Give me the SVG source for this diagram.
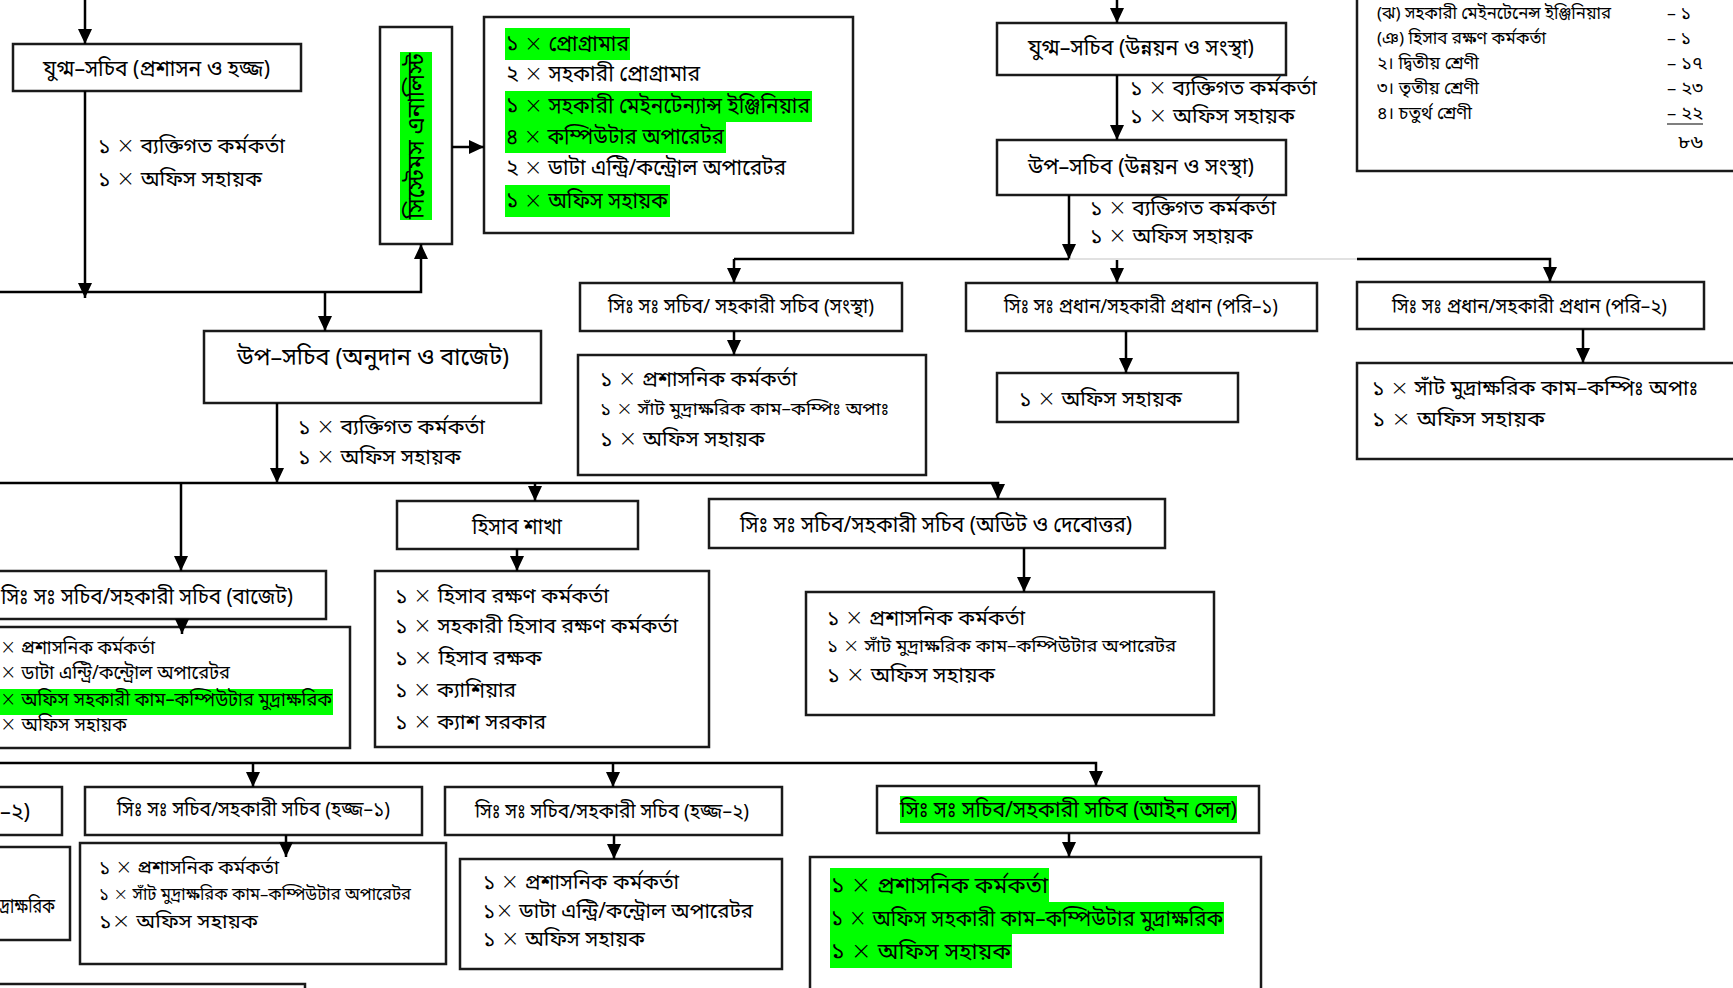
<svg xmlns="http://www.w3.org/2000/svg" width="1733" height="988" viewBox="0 0 1733 988">
<style>
.box{fill:#fff;stroke:#1a1a1a;stroke-width:2.5}
.hl{fill:#00ff00}
.t{font-family:"Noto Sans Bengali","Noto Serif Bengali","Lohit Bengali","FreeSerif","Noto Sans",sans-serif;fill:#000}
.x{font-family:"DejaVu Sans","Liberation Sans",sans-serif;font-weight:200;font-size:1.08em}
.f24{font-size:24px}.f23{font-size:23px}.f22{font-size:22px}.f21{font-size:21px}.f20{font-size:20px}.f19{font-size:19px}.f18{font-size:18px}.f17{font-size:17px}
.c{stroke:#000;stroke-width:2.5;fill:none}
.ca{stroke:#000;stroke-width:2.5;fill:none;marker-end:url(#ah)}
.cg{stroke:#c4c4c4;stroke-width:1.2;fill:none}
</style>
<defs>
<marker id="ah" markerUnits="userSpaceOnUse" markerWidth="16" markerHeight="16" refX="15" refY="7" orient="auto"><path d="M0,0 L15,7 L0,14 z" fill="#000"/></marker>
</defs>
<rect width="1733" height="988" fill="#fff"/>

<g id="node-jugmo-proshashon">
<rect class="box" x="13" y="44" width="288" height="47"/>
<text class="t f22" x="43" y="76" textLength="227" lengthAdjust="spacingAndGlyphs">যুগ্ম–সচিব (প্রশাসন ও হজ্জ)</text>
</g>
<g id="staff-jugmo-proshashon">
<text class="t f21" x="98" y="153" textLength="187" lengthAdjust="spacingAndGlyphs">১ <tspan class="x">×</tspan> ব্যক্তিগত কর্মকর্তা</text>
<text class="t f21" x="98" y="186" textLength="164" lengthAdjust="spacingAndGlyphs">১ <tspan class="x">×</tspan> অফিস সহায়ক</text>
</g>

<g id="node-systems-analyst">
<rect class="box" x="380" y="27" width="72" height="217"/>
<rect class="hl" x="400" y="52" width="32" height="168"/>
<text class="t f24" transform="translate(416,136) rotate(-90)" x="0" y="8" text-anchor="middle" textLength="166" lengthAdjust="spacingAndGlyphs">সিস্টেমস এনালিস্ট</text>
</g>

<g id="node-programmer">
<rect class="box" x="484" y="17" width="369" height="216"/>
<rect class="hl" x="505" y="28" width="125" height="32"/>
<rect class="hl" x="505" y="91" width="307" height="31"/>
<rect class="hl" x="505" y="122" width="221" height="31"/>
<rect class="hl" x="505" y="185" width="165" height="32"/>
<text class="t f22" x="506" y="51" textLength="123" lengthAdjust="spacingAndGlyphs">১ <tspan class="x">×</tspan> প্রোগ্রামার</text>
<text class="t f22" x="506" y="81" textLength="194" lengthAdjust="spacingAndGlyphs">২ <tspan class="x">×</tspan> সহকারী প্রোগ্রামার</text>
<text class="t f22" x="506" y="113" textLength="304" lengthAdjust="spacingAndGlyphs">১ <tspan class="x">×</tspan> সহকারী মেইনটেন্যান্স ইঞ্জিনিয়ার</text>
<text class="t f22" x="506" y="144" textLength="218" lengthAdjust="spacingAndGlyphs">৪ <tspan class="x">×</tspan> কম্পিউটার অপারেটর</text>
<text class="t f22" x="506" y="175" textLength="280" lengthAdjust="spacingAndGlyphs">২ <tspan class="x">×</tspan> ডাটা এন্ট্রি/কন্ট্রোল অপারেটর</text>
<text class="t f22" x="506" y="208" textLength="162" lengthAdjust="spacingAndGlyphs">১ <tspan class="x">×</tspan> অফিস সহায়ক</text>
</g>

<g id="node-jugmo-unnayan">
<rect class="box" x="997" y="23" width="289" height="52"/>
<text class="t f22" x="1028" y="55" textLength="226" lengthAdjust="spacingAndGlyphs">যুগ্ম–সচিব (উন্নয়ন ও সংস্থা)</text>
</g>
<g id="staff-jugmo-unnayan">
<text class="t f21" x="1130" y="95" textLength="187" lengthAdjust="spacingAndGlyphs">১ <tspan class="x">×</tspan> ব্যক্তিগত কর্মকর্তা</text>
<text class="t f21" x="1130" y="123" textLength="165" lengthAdjust="spacingAndGlyphs">১ <tspan class="x">×</tspan> অফিস সহায়ক</text>
</g>

<g id="node-up-unnayan">
<rect class="box" x="997" y="140" width="289" height="55"/>
<text class="t f22" x="1028" y="174" textLength="226" lengthAdjust="spacingAndGlyphs">উপ–সচিব (উন্নয়ন ও সংস্থা)</text>
</g>
<g id="staff-up-unnayan">
<text class="t f21" x="1090" y="215" textLength="186" lengthAdjust="spacingAndGlyphs">১ <tspan class="x">×</tspan> ব্যক্তিগত কর্মকর্তা</text>
<text class="t f21" x="1090" y="243" textLength="163" lengthAdjust="spacingAndGlyphs">১ <tspan class="x">×</tspan> অফিস সহায়ক</text>
</g>

<g id="node-sangstha">
<rect class="box" x="580" y="283" width="322" height="48"/>
<text class="t f20" x="608" y="313" textLength="266" lengthAdjust="spacingAndGlyphs">সিঃ সঃ সচিব/ সহকারী সচিব (সংস্থা)</text>
</g>
<g id="node-sangstha-staff">
<rect class="box" x="578" y="355" width="348" height="120"/>
<text class="t f21" x="600" y="386" textLength="197" lengthAdjust="spacingAndGlyphs">১ <tspan class="x">×</tspan> প্রশাসনিক কর্মকর্তা</text>
<text class="t f18" x="600" y="415" textLength="289" lengthAdjust="spacingAndGlyphs">১ <tspan class="x">×</tspan> সাঁট মুদ্রাক্ষরিক কাম–কম্পিঃ অপাঃ</text>
<text class="t f21" x="600" y="446" textLength="165" lengthAdjust="spacingAndGlyphs">১ <tspan class="x">×</tspan> অফিস সহায়ক</text>
</g>

<g id="node-pori1">
<rect class="box" x="966" y="283" width="351" height="48"/>
<text class="t f20" x="1004" y="313" textLength="274" lengthAdjust="spacingAndGlyphs">সিঃ সঃ প্রধান/সহকারী প্রধান (পরি–১)</text>
</g>
<g id="node-pori1-staff">
<rect class="box" x="997" y="373" width="241" height="49"/>
<text class="t f21" x="1019" y="406" textLength="163" lengthAdjust="spacingAndGlyphs">১ <tspan class="x">×</tspan> অফিস সহায়ক</text>
</g>

<g id="node-pori2">
<rect class="box" x="1357" y="282" width="347" height="47"/>
<text class="t f20" x="1392" y="313" textLength="275" lengthAdjust="spacingAndGlyphs">সিঃ সঃ প্রধান/সহকারী প্রধান (পরি–২)</text>
</g>
<g id="node-pori2-staff">
<rect class="box" x="1357" y="363" width="400" height="96"/>
<text class="t f20" x="1372" y="395" textLength="326" lengthAdjust="spacingAndGlyphs">১ <tspan class="x">×</tspan> সাঁট মুদ্রাক্ষরিক কাম–কম্পিঃ অপাঃ</text>
<text class="t f20" x="1372" y="426" textLength="173" lengthAdjust="spacingAndGlyphs">১ <tspan class="x">×</tspan> অফিস সহায়ক</text>
</g>

<g id="node-summary">
<rect class="box" x="1357" y="-5" width="400" height="176"/>
<text class="t f17" x="1377" y="19" textLength="234" lengthAdjust="spacingAndGlyphs">(ঝ) সহকারী মেইনটেনেন্স ইঞ্জিনিয়ার</text>
<text class="t f17" x="1377" y="44" textLength="169" lengthAdjust="spacingAndGlyphs">(ঞ) হিসাব রক্ষণ কর্মকর্তা</text>
<text class="t f17" x="1377" y="69" textLength="102" lengthAdjust="spacingAndGlyphs">২। দ্বিতীয় শ্রেণী</text>
<text class="t f17" x="1377" y="94" textLength="102" lengthAdjust="spacingAndGlyphs">৩। তৃতীয় শ্রেণী</text>
<text class="t f17" x="1377" y="119" textLength="95" lengthAdjust="spacingAndGlyphs">৪। চতুর্থ শ্রেণী</text>
<text class="t f17" x="1667" y="19" textLength="24" lengthAdjust="spacingAndGlyphs">– ১</text>
<text class="t f17" x="1667" y="44" textLength="24" lengthAdjust="spacingAndGlyphs">– ১</text>
<text class="t f17" x="1667" y="69" textLength="36" lengthAdjust="spacingAndGlyphs">– ১৭</text>
<text class="t f17" x="1667" y="94" textLength="36" lengthAdjust="spacingAndGlyphs">– ২৩</text>
<text class="t f17" x="1667" y="119" textLength="36" lengthAdjust="spacingAndGlyphs">– ২২</text>
<line x1="1667" y1="124" x2="1703" y2="124" stroke="#000" stroke-width="1.2"/>
<text class="t f17" x="1678" y="148" textLength="25" lengthAdjust="spacingAndGlyphs">৮৬</text>
</g>

<g id="node-up-anudan">
<rect class="box" x="204" y="331" width="337" height="72"/>
<text class="t f24" x="237" y="365" textLength="272" lengthAdjust="spacingAndGlyphs">উপ–সচিব (অনুদান ও বাজেট)</text>
</g>
<g id="staff-up-anudan">
<text class="t f21" x="298" y="434" textLength="187" lengthAdjust="spacingAndGlyphs">১ <tspan class="x">×</tspan> ব্যক্তিগত কর্মকর্তা</text>
<text class="t f21" x="298" y="464" textLength="163" lengthAdjust="spacingAndGlyphs">১ <tspan class="x">×</tspan> অফিস সহায়ক</text>
</g>

<g id="node-hisab">
<rect class="box" x="397" y="501" width="241" height="48"/>
<text class="t f22" x="472" y="534" textLength="90" lengthAdjust="spacingAndGlyphs">হিসাব শাখা</text>
</g>
<g id="node-hisab-staff">
<rect class="box" x="375" y="571" width="334" height="176"/>
<text class="t f21" x="395" y="603" textLength="214" lengthAdjust="spacingAndGlyphs">১ <tspan class="x">×</tspan> হিসাব রক্ষণ কর্মকর্তা</text>
<text class="t f21" x="395" y="633" textLength="283" lengthAdjust="spacingAndGlyphs">১ <tspan class="x">×</tspan> সহকারী হিসাব রক্ষণ কর্মকর্তা</text>
<text class="t f21" x="395" y="665" textLength="147" lengthAdjust="spacingAndGlyphs">১ <tspan class="x">×</tspan> হিসাব রক্ষক</text>
<text class="t f21" x="395" y="697" textLength="121" lengthAdjust="spacingAndGlyphs">১ <tspan class="x">×</tspan> ক্যাশিয়ার</text>
<text class="t f21" x="395" y="729" textLength="151" lengthAdjust="spacingAndGlyphs">১ <tspan class="x">×</tspan> ক্যাশ সরকার</text>
</g>

<g id="node-audit">
<rect class="box" x="709" y="499" width="456" height="49"/>
<text class="t f22" x="740" y="532" textLength="392" lengthAdjust="spacingAndGlyphs">সিঃ সঃ সচিব/সহকারী সচিব (অডিট ও দেবোত্তর)</text>
</g>
<g id="node-audit-staff">
<rect class="box" x="806" y="592" width="408" height="123"/>
<text class="t f21" x="827" y="625" textLength="198" lengthAdjust="spacingAndGlyphs">১ <tspan class="x">×</tspan> প্রশাসনিক কর্মকর্তা</text>
<text class="t f18" x="827" y="652" textLength="349" lengthAdjust="spacingAndGlyphs">১ <tspan class="x">×</tspan> সাঁট মুদ্রাক্ষরিক কাম–কম্পিউটার অপারেটর</text>
<text class="t f21" x="827" y="682" textLength="168" lengthAdjust="spacingAndGlyphs">১ <tspan class="x">×</tspan> অফিস সহায়ক</text>
</g>

<g id="node-bajet">
<rect class="box" x="-5" y="571" width="331" height="48"/>
<text class="t f22" x="1" y="604" textLength="292" lengthAdjust="spacingAndGlyphs">সিঃ সঃ সচিব/সহকারী সচিব (বাজেট)</text>
</g>
<g id="node-bajet-staff">
<rect class="box" x="-5" y="627" width="355" height="121"/>
<rect class="hl" x="0" y="689" width="333" height="26"/>
<text class="t f19" x="0" y="654" textLength="155" lengthAdjust="spacingAndGlyphs"><tspan class="x">×</tspan> প্রশাসনিক কর্মকর্তা</text>
<text class="t f19" x="0" y="679" textLength="230" lengthAdjust="spacingAndGlyphs"><tspan class="x">×</tspan> ডাটা এন্ট্রি/কন্ট্রোল অপারেটর</text>
<text class="t f19" x="0" y="706" textLength="332" lengthAdjust="spacingAndGlyphs"><tspan class="x">×</tspan> অফিস সহকারী কাম–কম্পিউটার মুদ্রাক্ষরিক</text>
<text class="t f19" x="0" y="731" textLength="127" lengthAdjust="spacingAndGlyphs"><tspan class="x">×</tspan> অফিস সহায়ক</text>
</g>

<g id="node-left-2">
<rect class="box" x="-5" y="787" width="67" height="48"/>
<text class="t f22" x="0" y="819" textLength="30" lengthAdjust="spacingAndGlyphs">–২)</text>
</g>
<g id="node-left-2-staff">
<rect class="box" x="-5" y="847" width="75" height="93"/>
<text class="t f20" x="0" y="913" textLength="55" lengthAdjust="spacingAndGlyphs">দ্রাক্ষরিক</text>
</g>

<g id="node-hajj1">
<rect class="box" x="85" y="787" width="337" height="48"/>
<text class="t f20" x="117" y="816" textLength="273" lengthAdjust="spacingAndGlyphs">সিঃ সঃ সচিব/সহকারী সচিব (হজ্জ–১)</text>
</g>
<g id="node-hajj1-staff">
<rect class="box" x="80" y="843" width="366" height="121"/>
<text class="t f19" x="99" y="874" textLength="180" lengthAdjust="spacingAndGlyphs">১ <tspan class="x">×</tspan> প্রশাসনিক কর্মকর্তা</text>
<text class="t f17" x="99" y="900" textLength="312" lengthAdjust="spacingAndGlyphs">১ <tspan class="x">×</tspan> সাঁট মুদ্রাক্ষরিক কাম–কম্পিউটার অপারেটর</text>
<text class="t f19" x="99" y="928" textLength="159" lengthAdjust="spacingAndGlyphs">১<tspan class="x">×</tspan> অফিস সহায়ক</text>
</g>

<g id="node-hajj2">
<rect class="box" x="445" y="787" width="337" height="48"/>
<text class="t f20" x="475" y="818" textLength="274" lengthAdjust="spacingAndGlyphs">সিঃ সঃ সচিব/সহকারী সচিব (হজ্জ–২)</text>
</g>
<g id="node-hajj2-staff">
<rect class="box" x="460" y="859" width="322" height="110"/>
<text class="t f21" x="483" y="889" textLength="196" lengthAdjust="spacingAndGlyphs">১ <tspan class="x">×</tspan> প্রশাসনিক কর্মকর্তা</text>
<text class="t f21" x="483" y="918" textLength="270" lengthAdjust="spacingAndGlyphs">১<tspan class="x">×</tspan> ডাটা এন্ট্রি/কন্ট্রোল অপারেটর</text>
<text class="t f21" x="483" y="946" textLength="162" lengthAdjust="spacingAndGlyphs">১ <tspan class="x">×</tspan> অফিস সহায়ক</text>
</g>

<g id="node-ain-cell">
<rect class="box" x="877" y="786" width="382" height="47"/>
<rect class="hl" x="900" y="796" width="337" height="27"/>
<text class="t f22" x="900" y="817" textLength="337" lengthAdjust="spacingAndGlyphs">সিঃ সঃ সচিব/সহকারী সচিব (আইন সেল)</text>
</g>
<g id="node-ain-cell-staff">
<rect class="box" x="810" y="857" width="451" height="140"/>
<rect class="hl" x="830" y="868" width="219" height="34"/>
<rect class="hl" x="830" y="902" width="394" height="32"/>
<rect class="hl" x="830" y="934" width="182" height="34"/>
<text class="t f23" x="831" y="893" textLength="217" lengthAdjust="spacingAndGlyphs">১ <tspan class="x">×</tspan> প্রশাসনিক কর্মকর্তা</text>
<text class="t f23" x="831" y="926" textLength="392" lengthAdjust="spacingAndGlyphs">১ <tspan class="x">×</tspan> অফিস সহকারী কাম–কম্পিউটার মুদ্রাক্ষরিক</text>
<text class="t f23" x="831" y="959" textLength="180" lengthAdjust="spacingAndGlyphs">১ <tspan class="x">×</tspan> অফিস সহায়ক</text>
</g>

<g id="node-bottom-left">
<rect class="box" x="-5" y="984" width="310" height="20"/>
</g>

<g id="connectors">
<path class="ca" d="M85,0 V44"/>
<path class="ca" d="M85,91 V298"/>
<path class="ca" d="M-2,292 H421 V244"/>
<path class="ca" d="M325,292 V331"/>
<path class="ca" d="M452,147 H484"/>
<path class="ca" d="M1117,0 V23"/>
<path class="ca" d="M1117,75 V140"/>
<path class="ca" d="M1069,195 V259"/>
<path class="c" d="M734,259 H1069"/>
<path class="cg" d="M1069,259 H1357"/>
<path class="ca" d="M1357,259 H1550 V282"/>
<path class="ca" d="M734,259 V283"/>
<path class="ca" d="M1117,260 V283"/>
<path class="ca" d="M734,331 V355"/>
<path class="ca" d="M1126,331 V373"/>
<path class="ca" d="M1583,329 V363"/>
<path class="ca" d="M277,403 V483"/>
<path class="ca" d="M-2,483 H998 V499"/>
<path class="ca" d="M181,483 V571"/>
<path class="ca" d="M535,483 V501"/>
<path class="ca" d="M517,549 V571"/>
<path class="ca" d="M182,619 V634"/>
<path class="ca" d="M1024,548 V592"/>
<path class="ca" d="M-2,763 H1096 V786"/>
<path class="ca" d="M253,763 V787"/>
<path class="ca" d="M613,763 V787"/>
<path class="ca" d="M286,835 V857"/>
<path class="ca" d="M614,835 V859"/>
<path class="ca" d="M1069,833 V857"/>
</g>
</svg>
